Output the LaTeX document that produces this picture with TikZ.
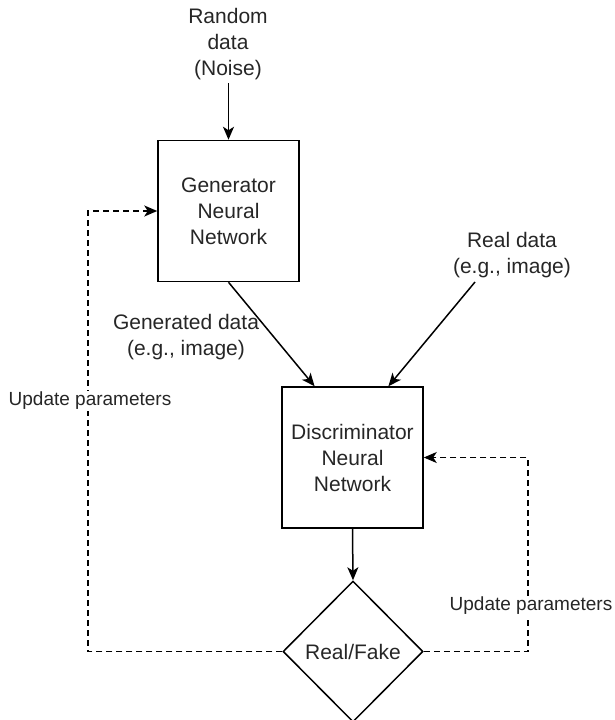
\documentclass[tikz,border=0pt]{standalone}
\usepackage{fontspec}
\setmainfont{Liberation Sans}
\usetikzlibrary{arrows.meta,shapes.geometric,calc}

\begin{document}
\begin{tikzpicture}[x=1pt,y=-1pt,
  txt/.style={font=\fontsize{21}{26}\selectfont, align=center, inner sep=2pt, text=black!85},
  box/.style={draw, line width=1.5pt, minimum width=141pt, minimum height=141pt, inner sep=0pt,
              align=center, font=\fontsize{21}{26}\selectfont, text=black!85},
  decision/.style={draw, diamond, line width=1.5pt, minimum width=140pt, minimum height=141pt,
              inner sep=0pt, font=\fontsize{21}{26}\selectfont, text=black!85},
  arr/.style={line width=1.5pt, -{Stealth[length=13pt,width=11pt,inset=3.5pt]}},
  dasharr/.style={line width=1.3pt, dash pattern=on 6pt off 4pt,
              -{Stealth[length=13pt,width=11pt,inset=3.5pt]}},
  lbl/.style={font=\fontsize{19}{24}\selectfont, text=black!85, fill=white, inner sep=1pt}
]
\useasboundingbox (0,0) rectangle (615,720);

% main blocks
\node[box] (gen) at (228.5,211) {Generator\\Neural\\Network};
\node[box] (disc) at (352.5,457.5) {Discriminator\\Neural\\Network};
\node[decision] (rf) at (353,651.5) {Real/Fake};

% inputs
\node[txt] (rand) at (228,44) {Random\\data\\(Noise)};
\node[txt] (real) at (512,255) {Real data\\(e.g., image)};
\coordinate (realout) at (475,282);
\coordinate (randout) at (228.5,83);

% data flow
\draw[arr] (randout) -- (gen.north);
\draw[arr] (gen.south) -- ($(disc.north west)!0.234!(disc.north east)$);
\draw[arr] (realout) -- ($(disc.north west)!0.752!(disc.north east)$);
\draw[arr] (disc.south) -- (rf.north);

\node[txt] (genlbl) at (186,337.5) {Generated data\\(e.g., image)};

% feedback loops
\coordinate (lcorner) at (88,211);
\coordinate (rcorner) at (528,457.5);
\draw[dasharr] (rf.west) -| (lcorner) -- (gen.west);
\draw[dasharr] (rf.east) -| (rcorner) -- (disc.east);

\node[lbl] (lupd) at (90,401) {Update parameters};
\node[lbl] (rupd) at (531,606) {Update parameters};
\end{tikzpicture}
\end{document}
